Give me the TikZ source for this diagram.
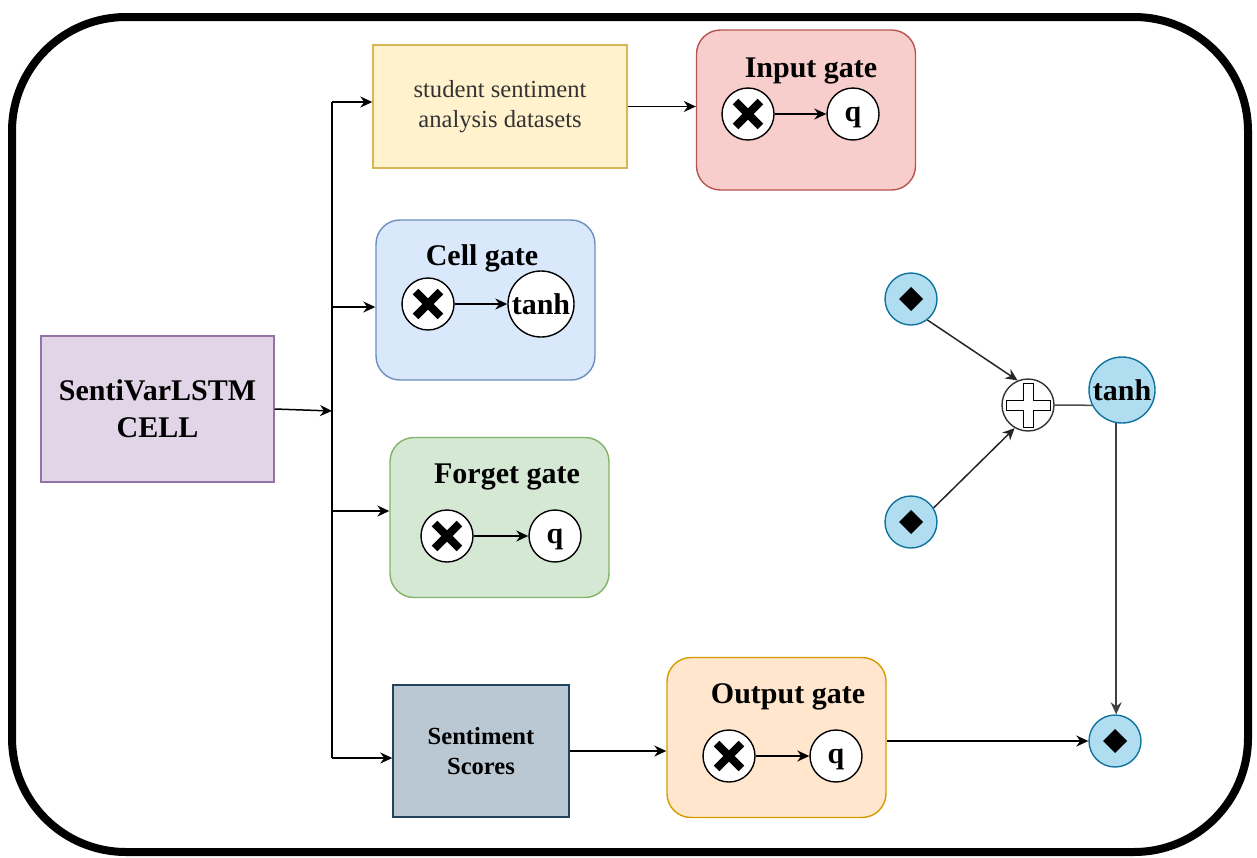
\documentclass[tikz,border=0pt]{standalone}
\usepackage{fontspec}
\setmainfont{Liberation Serif}
\usetikzlibrary{arrows.meta}
\definecolor{purF}{HTML}{E1D5E7}\definecolor{purD}{HTML}{9673A6}
\definecolor{yelF}{HTML}{FFF2CC}\definecolor{yelD}{HTML}{D6B656}
\definecolor{redF}{HTML}{F8CECC}\definecolor{redD}{HTML}{B85450}
\definecolor{bluF}{HTML}{DAE8FC}\definecolor{bluD}{HTML}{6C8EBF}
\definecolor{grnF}{HTML}{D5E8D4}\definecolor{grnD}{HTML}{82B366}
\definecolor{gryF}{HTML}{BAC8D3}\definecolor{gryD}{HTML}{23445D}
\definecolor{orgF}{HTML}{FFE6CC}\definecolor{orgD}{HTML}{D79B00}
\definecolor{lbF}{HTML}{B1DDF0}\definecolor{lbD}{HTML}{10739E}
\definecolor{txtG}{HTML}{333333}
\begin{document}
\begin{tikzpicture}[x=0.5pt,y=-0.5pt,
  box/.style={draw, line width=0.7pt, inner sep=0pt, align=center},
  gatebox/.style={box, rounded corners=12pt, minimum width=109.5pt, minimum height=80pt},
  gtitle/.style={anchor=base, inner sep=0pt, font=\fontsize{15}{18}\selectfont\bfseries},
  circ/.style={circle, draw, line width=0.7pt, fill=white, minimum size=26pt, inner sep=0pt,
    font=\fontsize{15}{18}\selectfont\bfseries},
  qcirc/.style={circ, text depth=0pt},
  xcirc/.style={circ, path picture={
    \draw[black, line width=4pt] ([shift={(-6.2pt,-6.2pt)}]path picture bounding box.center) -- ([shift={(6.2pt,6.2pt)}]path picture bounding box.center);
    \draw[black, line width=4pt] ([shift={(-6.2pt,6.2pt)}]path picture bounding box.center) -- ([shift={(6.2pt,-6.2pt)}]path picture bounding box.center);}},
  dcirc/.style={circle, draw=lbD, line width=0.7pt, fill=lbF, minimum size=26pt, inner sep=0pt,
    path picture={\fill[black] ([shift={(6pt,0pt)}]path picture bounding box.center) -- ([shift={(0pt,6pt)}]path picture bounding box.center) -- ([shift={(-6pt,0pt)}]path picture bounding box.center) -- ([shift={(0pt,-6pt)}]path picture bounding box.center) -- cycle;}},
  pcirc/.style={circle, draw=black!80, line width=0.7pt, fill=white, minimum size=26pt, inner sep=0pt,
    path picture={\filldraw[fill=white, draw=black, line width=0.5pt]
      ([shift={(-2.5pt,-11pt)}]path picture bounding box.center) -- ([shift={(2.5pt,-11pt)}]path picture bounding box.center) --
      ([shift={(2.5pt,-2.5pt)}]path picture bounding box.center) -- ([shift={(11pt,-2.5pt)}]path picture bounding box.center) --
      ([shift={(11pt,2.5pt)}]path picture bounding box.center) -- ([shift={(2.5pt,2.5pt)}]path picture bounding box.center) --
      ([shift={(2.5pt,11pt)}]path picture bounding box.center) -- ([shift={(-2.5pt,11pt)}]path picture bounding box.center) --
      ([shift={(-2.5pt,2.5pt)}]path picture bounding box.center) -- ([shift={(-11pt,2.5pt)}]path picture bounding box.center) --
      ([shift={(-11pt,-2.5pt)}]path picture bounding box.center) -- ([shift={(-2.5pt,-2.5pt)}]path picture bounding box.center) -- cycle;}},
  arr/.style={-{Stealth[length=6pt,width=5.5pt]}, line width=0.75pt},
  ln/.style={line width=0.75pt}
]
\useasboundingbox (0,0) rectangle (1257,857);
% outer frame
\draw[line width=4pt, rounded corners=57pt] (12,17) rectangle (1248,852);

% left box
\node[box, draw=purD, fill=purF, minimum width=116.5pt, minimum height=73pt,
  font=\fontsize{15}{18.5}\selectfont\bfseries] (lstm) at (157.5,409) {SentiVarLSTM\\CELL};

% data box
\node[box, draw=yelD, fill=yelF, minimum width=127pt, minimum height=61.5pt,
  text=txtG, font=\fontsize{12.3}{15}\selectfont] (data) at (500,106.5) {student sentiment\\analysis datasets};

% input gate
\node[gatebox, draw=redD, fill=redF] (ing) at (806,110) {};
\node[gtitle] (ingT) at (811,77) {Input gate};
\node[xcirc] (inX) at (748,114) {};
\node[qcirc] (inQ) at (853,114) {q};

% cell gate
\node[gatebox, draw=bluD, fill=bluF] (cg) at (485.5,300) {};
\node[gtitle] (cgT) at (482,265) {Cell gate};
\node[xcirc] (cgX) at (428,304) {};
\node[circ, minimum size=33pt] (cgH) at (541,304) {tanh};

% forget gate
\node[gatebox, draw=grnD, fill=grnF] (fg) at (499.5,517.5) {};
\node[gtitle] (fgT) at (507,483) {Forget gate};
\node[xcirc] (fgX) at (447,536) {};
\node[qcirc] (fgQ) at (555,536) {q};

% sentiment scores
\node[box, draw=gryD, fill=gryF, minimum width=88pt, minimum height=66pt,
  font=\fontsize{12.3}{15}\selectfont\bfseries] (sc) at (481,751) {Sentiment\\Scores};

% output gate
\node[gatebox, draw=orgD, fill=orgF] (og) at (776.5,737.5) {};
\node[gtitle] (ogT) at (788,703) {Output gate};
\node[xcirc] (ogX) at (729,756) {};
\node[qcirc] (ogQ) at (836,756) {q};

% right part
\node[dcirc] (d1) at (911,299) {};
\node[dcirc] (d2) at (911,522) {};
\node[pcirc] (pl) at (1028,405) {};
\node[circle, draw=lbD, line width=0.7pt, fill=lbF, minimum size=33pt, inner sep=0pt,
  font=\fontsize{15}{18}\selectfont\bfseries] (th) at (1122,390) {tanh};
\node[dcirc] (od) at (1115,741) {};

% bus
\coordinate (bTop) at (332,102);
\coordinate (bC) at (332,307);
\coordinate (bM) at (332,411);
\coordinate (bF) at (332,511);
\coordinate (bBot) at (332,758);
\draw[ln] (bTop) -- (bBot);
\draw[arr] (lstm.east) -- (bM);
\draw[arr] (bTop) -- (data.west |- bTop);
\draw[arr] (bC) -- (cg.west |- bC);
\draw[arr] (bF) -- (fg.west |- bF);
\draw[arr] (bBot) -- (sc.west |- bBot);

% connections
\draw[arr] (data.east) -- (ing.west |- data.east);
\draw[arr] (inX) -- (inQ);
\draw[arr] (cgX) -- (cgH);
\draw[arr] (fgX) -- (fgQ);
\draw[arr] (ogX) -- (ogQ);
\draw[arr] (sc.east) -- (og.west |- sc.east);
\draw[arr] (og.east |- od) -- (od);

\draw[arr, black!85] (d1.308) -- (pl.113);
\draw[arr, black!85] (d2.32) -- (pl.240);
\draw[ln, black!70] (pl.east) -- (th.207);
\draw[arr, black!75] (th.260) -- (th.260 |- od.north);
\end{tikzpicture}
\end{document}
